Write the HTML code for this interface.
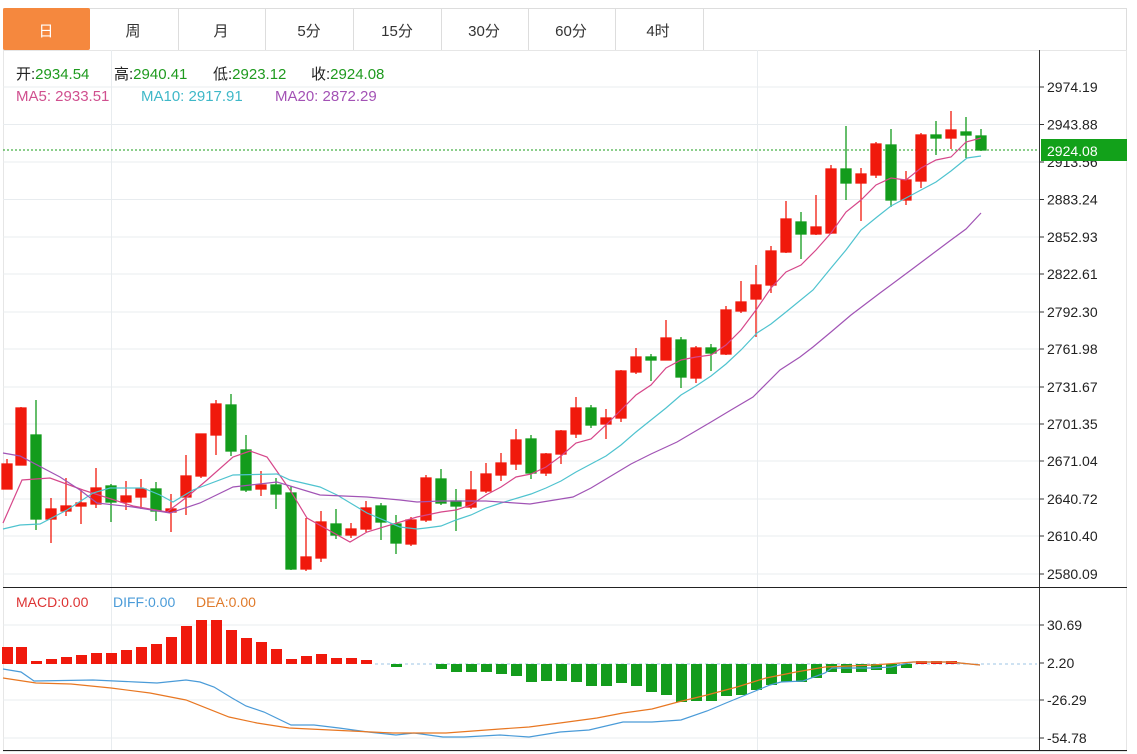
<!DOCTYPE html>
<html><head><meta charset="utf-8"><style>
body{margin:0;background:#fff;width:1137px;height:754px;overflow:hidden;font-family:"Liberation Sans","Noto Sans CJK SC",sans-serif}
</style></head><body>
<svg width="1137" height="754" xmlns="http://www.w3.org/2000/svg" style="position:absolute;left:0;top:0" font-family="Liberation Sans, Noto Sans CJK SC, sans-serif">
<rect x="3.5" y="8.5" width="1123" height="42" fill="#fff" stroke="#ddd"/>
<rect x="3" y="8" width="87" height="42" fill="#f5883e" rx="2"/>
<g stroke="#ddd"><line x1="178.5" y1="8" x2="178.5" y2="50"/><line x1="265.5" y1="8" x2="265.5" y2="50"/><line x1="353.5" y1="8" x2="353.5" y2="50"/><line x1="441.5" y1="8" x2="441.5" y2="50"/><line x1="528.5" y1="8" x2="528.5" y2="50"/><line x1="615.5" y1="8" x2="615.5" y2="50"/><line x1="703.5" y1="8" x2="703.5" y2="50"/></g>
<g font-size="15" text-anchor="middle" fill="#333"><text x="46" y="36" fill="#fff">日</text><text x="133" y="36">周</text><text x="221" y="36">月</text><text x="309" y="36">5分</text><text x="397" y="36">15分</text><text x="484" y="36">30分</text><text x="571" y="36">60分</text><text x="658" y="36">4时</text></g>
<rect x="3.5" y="50.5" width="1123" height="701" fill="none" stroke="#e6e6e6"/>
<g stroke="#e8ecef"><line x1="3" y1="87" x2="1039" y2="87"/><line x1="3" y1="124.5" x2="1039" y2="124.5"/><line x1="3" y1="162" x2="1039" y2="162"/><line x1="3" y1="199.5" x2="1039" y2="199.5"/><line x1="3" y1="237" x2="1039" y2="237"/><line x1="3" y1="274" x2="1039" y2="274"/><line x1="3" y1="312" x2="1039" y2="312"/><line x1="3" y1="349" x2="1039" y2="349"/><line x1="3" y1="387" x2="1039" y2="387"/><line x1="3" y1="424" x2="1039" y2="424"/><line x1="3" y1="461" x2="1039" y2="461"/><line x1="3" y1="499" x2="1039" y2="499"/><line x1="3" y1="536" x2="1039" y2="536"/><line x1="3" y1="574" x2="1039" y2="574"/>
<line x1="3" y1="625" x2="1039" y2="625"/><line x1="3" y1="700" x2="1039" y2="700"/><line x1="3" y1="738" x2="1039" y2="738"/>
<line x1="111.5" y1="50" x2="111.5" y2="751"/><line x1="757.5" y1="50" x2="757.5" y2="751"/></g>
<line x1="1039.5" y1="50" x2="1039.5" y2="751" stroke="#333"/>
<line x1="3" y1="587.5" x2="1127" y2="587.5" stroke="#222"/>
<line x1="3" y1="750.5" x2="1127" y2="750.5" stroke="#222"/>
<g stroke="#333"><line x1="1039" y1="87" x2="1044" y2="87"/><line x1="1039" y1="124.5" x2="1044" y2="124.5"/><line x1="1039" y1="162" x2="1044" y2="162"/><line x1="1039" y1="199.5" x2="1044" y2="199.5"/><line x1="1039" y1="237" x2="1044" y2="237"/><line x1="1039" y1="274" x2="1044" y2="274"/><line x1="1039" y1="312" x2="1044" y2="312"/><line x1="1039" y1="349" x2="1044" y2="349"/><line x1="1039" y1="387" x2="1044" y2="387"/><line x1="1039" y1="424" x2="1044" y2="424"/><line x1="1039" y1="461" x2="1044" y2="461"/><line x1="1039" y1="499" x2="1044" y2="499"/><line x1="1039" y1="536" x2="1044" y2="536"/><line x1="1039" y1="574" x2="1044" y2="574"/><line x1="1039" y1="625" x2="1044" y2="625"/><line x1="1039" y1="663" x2="1044" y2="663"/><line x1="1039" y1="700" x2="1044" y2="700"/><line x1="1039" y1="738" x2="1044" y2="738"/></g>
<g font-size="14" fill="#222"><text x="1047" y="92">2974.19</text><text x="1047" y="129.5">2943.88</text><text x="1047" y="167">2913.56</text><text x="1047" y="204.5">2883.24</text><text x="1047" y="242">2852.93</text><text x="1047" y="279">2822.61</text><text x="1047" y="317">2792.30</text><text x="1047" y="354">2761.98</text><text x="1047" y="392">2731.67</text><text x="1047" y="429">2701.35</text><text x="1047" y="466">2671.04</text><text x="1047" y="504">2640.72</text><text x="1047" y="541">2610.40</text><text x="1047" y="579">2580.09</text>
<text x="1047" y="630">30.69</text><text x="1047" y="668">2.20</text><text x="1047" y="705">-26.29</text><text x="1047" y="743">-54.78</text></g>
<line x1="3" y1="150" x2="1039" y2="150" stroke="#1a9c1a" stroke-dasharray="2,2"/>
<rect x="1041" y="139" width="86" height="22" fill="#12a11a"/>
<text x="1047" y="156" font-size="14" fill="#fff">2924.08</text>
<g font-size="15">
<text x="16" y="79" fill="#222">开:<tspan fill="#1e9a1e">2934.54</tspan></text>
<text x="114" y="79" fill="#222">高:<tspan fill="#1e9a1e">2940.41</tspan></text>
<text x="213" y="79" fill="#222">低:<tspan fill="#1e9a1e">2923.12</tspan></text>
<text x="311" y="79" fill="#222">收:<tspan fill="#1e9a1e">2924.08</tspan></text>
<text x="16" y="101" fill="#d0508f">MA5: 2933.51</text><text x="141" y="101" fill="#3fb8c8">MA10: 2917.91</text><text x="275" y="101" fill="#a352b5">MA20: 2872.29</text>
</g>
<g font-size="14"><text x="16" y="607" fill="#d33">MACD:0.00</text><text x="113" y="607" fill="#4a9bd8">DIFF:0.00</text><text x="196" y="607" fill="#e07a2a">DEA:0.00</text></g>
<g stroke-width="1.3">
<g stroke="#f0190c" fill="#f0190c">
<line x1="7" y1="459" x2="7" y2="489"/><rect x="2" y="464" width="10" height="25"/>
<line x1="21" y1="407" x2="21" y2="465"/><rect x="16" y="408" width="10" height="57"/>
<line x1="51" y1="498" x2="51" y2="543"/><rect x="46" y="509" width="10" height="10"/>
<line x1="66" y1="478" x2="66" y2="516"/><rect x="61" y="506" width="10" height="5"/>
<line x1="81" y1="490" x2="81" y2="524"/><rect x="76" y="503" width="10" height="3"/>
<line x1="96" y1="468" x2="96" y2="508"/><rect x="91" y="488" width="10" height="16"/>
<line x1="126" y1="481" x2="126" y2="510"/><rect x="121" y="496" width="10" height="6"/>
<line x1="141" y1="479" x2="141" y2="509"/><rect x="136" y="489" width="10" height="8"/>
<line x1="171" y1="494" x2="171" y2="532"/><rect x="166" y="509" width="10" height="3"/>
<line x1="186" y1="455" x2="186" y2="515"/><rect x="181" y="476" width="10" height="21"/>
<line x1="201" y1="434" x2="201" y2="478"/><rect x="196" y="434" width="10" height="42"/>
<line x1="216" y1="400" x2="216" y2="455"/><rect x="211" y="404" width="10" height="31"/>
<line x1="261" y1="471" x2="261" y2="496"/><rect x="256" y="485" width="10" height="4"/>
<line x1="306" y1="518" x2="306" y2="571"/><rect x="301" y="557" width="10" height="12"/>
<line x1="321" y1="511" x2="321" y2="562"/><rect x="316" y="522" width="10" height="36"/>
<line x1="351" y1="523" x2="351" y2="538"/><rect x="346" y="529" width="10" height="6"/>
<line x1="366" y1="501" x2="366" y2="532"/><rect x="361" y="508" width="10" height="21"/>
<line x1="411" y1="517" x2="411" y2="546"/><rect x="406" y="520" width="10" height="24"/>
<line x1="426" y1="475" x2="426" y2="522"/><rect x="421" y="478" width="10" height="42"/>
<line x1="471" y1="471" x2="471" y2="509"/><rect x="466" y="490" width="10" height="17"/>
<line x1="486" y1="463" x2="486" y2="493"/><rect x="481" y="474" width="10" height="17"/>
<line x1="501" y1="453" x2="501" y2="481"/><rect x="496" y="463" width="10" height="12"/>
<line x1="516" y1="429" x2="516" y2="470"/><rect x="511" y="440" width="10" height="24"/>
<line x1="546" y1="453" x2="546" y2="476"/><rect x="541" y="454" width="10" height="19"/>
<line x1="561" y1="430" x2="561" y2="464"/><rect x="556" y="431" width="10" height="23"/>
<line x1="576" y1="397" x2="576" y2="438"/><rect x="571" y="408" width="10" height="26"/>
<line x1="606" y1="409" x2="606" y2="439"/><rect x="601" y="418" width="10" height="6"/>
<line x1="621" y1="370" x2="621" y2="422"/><rect x="616" y="371" width="10" height="47"/>
<line x1="636" y1="348" x2="636" y2="374"/><rect x="631" y="357" width="10" height="15"/>
<line x1="666" y1="320" x2="666" y2="360"/><rect x="661" y="338" width="10" height="22"/>
<line x1="696" y1="346" x2="696" y2="383"/><rect x="691" y="348" width="10" height="30"/>
<line x1="726" y1="306" x2="726" y2="355"/><rect x="721" y="310" width="10" height="44"/>
<line x1="741" y1="281" x2="741" y2="313"/><rect x="736" y="302" width="10" height="9"/>
<line x1="756" y1="265" x2="756" y2="337"/><rect x="751" y="285" width="10" height="14"/>
<line x1="771" y1="246" x2="771" y2="293"/><rect x="766" y="251" width="10" height="34"/>
<line x1="786" y1="201" x2="786" y2="253"/><rect x="781" y="219" width="10" height="33"/>
<line x1="816" y1="195" x2="816" y2="235"/><rect x="811" y="227" width="10" height="7"/>
<line x1="831" y1="165" x2="831" y2="234"/><rect x="826" y="169" width="10" height="64"/>
<line x1="861" y1="168" x2="861" y2="221"/><rect x="856" y="174" width="10" height="9"/>
<line x1="876" y1="142" x2="876" y2="178"/><rect x="871" y="144" width="10" height="31"/>
<line x1="906" y1="171" x2="906" y2="205"/><rect x="901" y="180" width="10" height="20"/>
<line x1="921" y1="133" x2="921" y2="188"/><rect x="916" y="135" width="10" height="46"/>
<line x1="951" y1="111" x2="951" y2="149"/><rect x="946" y="130" width="10" height="8"/>
</g>
<g stroke="#139c1c" fill="#139c1c">
<line x1="36" y1="400" x2="36" y2="530"/><rect x="31" y="435" width="10" height="84"/>
<line x1="111" y1="484" x2="111" y2="522"/><rect x="106" y="486" width="10" height="16"/>
<line x1="156" y1="482" x2="156" y2="521"/><rect x="151" y="489" width="10" height="22"/>
<line x1="231" y1="394" x2="231" y2="456"/><rect x="226" y="405" width="10" height="46"/>
<line x1="246" y1="435" x2="246" y2="492"/><rect x="241" y="450" width="10" height="40"/>
<line x1="276" y1="478" x2="276" y2="509"/><rect x="271" y="485" width="10" height="9"/>
<line x1="291" y1="486" x2="291" y2="570"/><rect x="286" y="493" width="10" height="76"/>
<line x1="336" y1="509" x2="336" y2="539"/><rect x="331" y="524" width="10" height="11"/>
<line x1="381" y1="503" x2="381" y2="540"/><rect x="376" y="506" width="10" height="16"/>
<line x1="396" y1="515" x2="396" y2="554"/><rect x="391" y="524" width="10" height="19"/>
<line x1="441" y1="469" x2="441" y2="505"/><rect x="436" y="479" width="10" height="24"/>
<line x1="456" y1="489" x2="456" y2="531"/><rect x="451" y="501" width="10" height="5"/>
<line x1="531" y1="435" x2="531" y2="479"/><rect x="526" y="439" width="10" height="34"/>
<line x1="591" y1="405" x2="591" y2="428"/><rect x="586" y="408" width="10" height="17"/>
<line x1="651" y1="354" x2="651" y2="381"/><rect x="646" y="357" width="10" height="3"/>
<line x1="681" y1="337" x2="681" y2="388"/><rect x="676" y="340" width="10" height="37"/>
<line x1="711" y1="344" x2="711" y2="371"/><rect x="706" y="348" width="10" height="5"/>
<line x1="801" y1="212" x2="801" y2="259"/><rect x="796" y="222" width="10" height="12"/>
<line x1="846" y1="126" x2="846" y2="200"/><rect x="841" y="169" width="10" height="14"/>
<line x1="891" y1="129" x2="891" y2="207"/><rect x="886" y="145" width="10" height="55"/>
<line x1="936" y1="121" x2="936" y2="155"/><rect x="931" y="135" width="10" height="3"/>
<line x1="966" y1="117" x2="966" y2="158"/><rect x="961" y="132" width="10" height="3"/>
<line x1="981" y1="129" x2="981" y2="151"/><rect x="976" y="136" width="10" height="14"/>
</g></g>
<g fill="none" stroke-width="1.2">
<polyline stroke="#d6478a" points="3,523 22,480 50,478 83,490 133,506 167,512 187,497 207,480 233,457 250,451 267,457 290,490 307,518 350,542 367,532 417,517 441,512 456,510 471,505 486,495 501,487 516,477 531,474 546,467 561,456 576,443 591,439 606,425 621,410 636,395 651,385 666,368 681,360 696,357 711,355 726,345 741,330 756,310 771,288 786,272 801,265 816,250 831,233 846,212 861,200 876,185 891,178 906,180 921,168 936,160 951,157 966,142 981,138"/>
<polyline stroke="#4fc3cf" points="3,529 20,525 40,524 67,510 93,493 110,488 143,488 160,495 173,502 193,490 233,475 277,474 290,480 320,487 337,495 367,513 400,527 417,529 426,528 441,526 456,520 471,515 486,508 501,503 531,494 546,488 561,481 576,472 591,464 606,456 621,445 636,432 651,420 666,408 681,395 696,386 711,376 726,364 741,350 757,333 771,324 786,312 813,290 831,268 846,250 861,230 877,217 891,206 906,198 921,190 936,182 951,171 967,158 981,156"/>
<polyline stroke="#a154b5" points="3,453 20,456 60,477 80,490 97,503 133,507 170,513 200,503 233,487 277,482 320,495 367,497 400,500 417,502 441,501 486,501 530,504 573,497 591,488 611,476 631,464 651,454 677,442 711,422 731,410 753,397 780,370 800,357 813,347 831,332 851,315 880,293 911,270 931,255 951,240 966,229 981,213"/>
</g>
<line x1="375" y1="664" x2="1037" y2="664" stroke="#9cc4e4" stroke-dasharray="3,3"/>
<g fill="#f0190c">
<rect x="2" y="647" width="11" height="17"/><rect x="16" y="647" width="11" height="17"/><rect x="31" y="661" width="11" height="3"/><rect x="46" y="659" width="11" height="5"/><rect x="61" y="657" width="11" height="7"/><rect x="76" y="655" width="11" height="9"/><rect x="91" y="653" width="11" height="11"/><rect x="106" y="653" width="11" height="11"/><rect x="121" y="650" width="11" height="14"/><rect x="136" y="647" width="11" height="17"/><rect x="151" y="644" width="11" height="20"/><rect x="166" y="637" width="11" height="27"/><rect x="181" y="626" width="11" height="38"/><rect x="196" y="620" width="11" height="44"/><rect x="211" y="620" width="11" height="44"/><rect x="226" y="630" width="11" height="34"/><rect x="241" y="638" width="11" height="26"/><rect x="256" y="642" width="11" height="22"/><rect x="271" y="649" width="11" height="15"/><rect x="286" y="659" width="11" height="5"/><rect x="301" y="656" width="11" height="8"/><rect x="316" y="654" width="11" height="10"/><rect x="331" y="658" width="11" height="6"/><rect x="346" y="658" width="11" height="6"/><rect x="361" y="660" width="11" height="4"/>
<rect x="916" y="661" width="11" height="3"/><rect x="931" y="661" width="11" height="3"/><rect x="946" y="661" width="11" height="3"/></g>
<g fill="#139c1c">
<rect x="391" y="664" width="11" height="3"/><rect x="436" y="664" width="11" height="5"/><rect x="451" y="664" width="11" height="8"/><rect x="466" y="664" width="11" height="8"/><rect x="481" y="664" width="11" height="8"/><rect x="496" y="664" width="11" height="10"/><rect x="511" y="664" width="11" height="12"/><rect x="526" y="664" width="11" height="18"/><rect x="541" y="664" width="11" height="17"/><rect x="556" y="664" width="11" height="17"/><rect x="571" y="664" width="11" height="18"/><rect x="586" y="664" width="11" height="22"/><rect x="601" y="664" width="11" height="22"/><rect x="616" y="664" width="11" height="19"/><rect x="631" y="664" width="11" height="22"/><rect x="646" y="664" width="11" height="28"/><rect x="661" y="664" width="11" height="31"/><rect x="676" y="664" width="11" height="38"/><rect x="691" y="664" width="11" height="37"/><rect x="706" y="664" width="11" height="37"/><rect x="721" y="664" width="11" height="32"/><rect x="736" y="664" width="11" height="31"/><rect x="751" y="664" width="11" height="26"/><rect x="766" y="664" width="11" height="21"/><rect x="781" y="664" width="11" height="18"/><rect x="796" y="664" width="11" height="18"/><rect x="811" y="664" width="11" height="14"/><rect x="826" y="664" width="11" height="8"/><rect x="841" y="664" width="11" height="9"/><rect x="856" y="664" width="11" height="8"/><rect x="871" y="664" width="11" height="6"/><rect x="886" y="664" width="11" height="10"/><rect x="901" y="664" width="11" height="4"/></g>
<g fill="none" stroke-width="1.2">
<polyline stroke="#4a9bd8" points="3,669 21,672 34,681 93,680 136,682 157,683 186,680 200,682 214,687 232,698 246,706 264,712 291,725 314,725 339,728 368,732 396,735 414,733 443,737 464,737 500,735 529,737 560,732 589,730 623,722 652,722 681,720 707,711 726,703 748,694 770,685 781,682 803,681 825,673 832,668 873,668 891,667 913,662 950,662 980,665"/>
<polyline stroke="#e87722" points="3,678 36,683 71,684 111,688 150,693 186,700 229,717 257,723 289,728 393,733 446,733 500,729 529,727 560,723 597,718 623,713 652,709 678,702 707,695 737,687 766,678 796,672 825,667 873,665 913,662 950,662 980,665"/>
</g>
</svg>
</body></html>
